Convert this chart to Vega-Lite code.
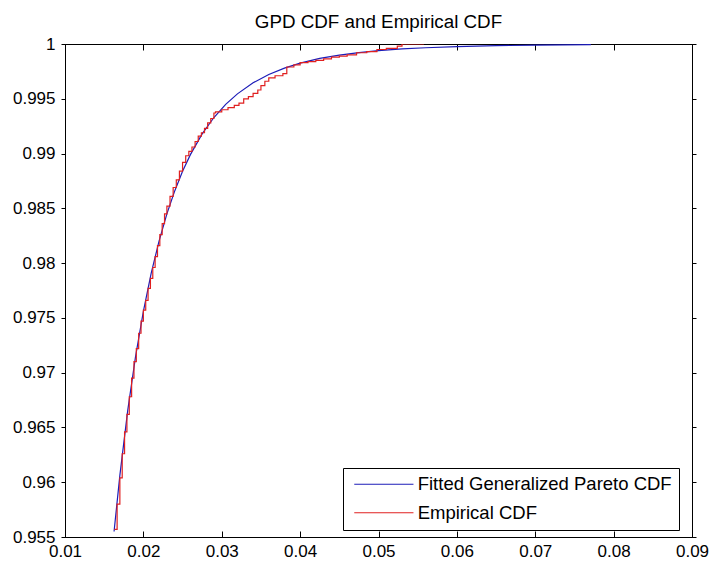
{
  "$schema": "https://vega.github.io/schema/vega-lite/v6.json",
  "width": 627,
  "height": 493,
  "autosize": {"type": "none"},
  "padding": {"left": 65, "top": 44, "right": 19, "bottom": 24},
  "background": "white",
  "title": {"text": "GPD CDF and Empirical CDF", "font": "Liberation Sans", "fontSize": 18.8, "fontWeight": "normal", "color": "black", "anchor": "middle", "offset": 3},
  "config": {
    "view": {"stroke": "black", "strokeWidth": 1},
    "axis": {"grid": false, "domainColor": "black", "tickColor": "black", "labelColor": "black", "labelFont": "Liberation Sans", "labelFontSize": 17, "title": null, "domainWidth": 1, "tickWidth": 1}
  },
  "datasets": {
    "gpd": [
      {"x": 0.01626, "y": 0.9555, "series": "Fitted Generalized Pareto CDF"},
      {"x": 0.0170, "y": 0.96063, "series": "Fitted Generalized Pareto CDF"},
      {"x": 0.0180, "y": 0.96654, "series": "Fitted Generalized Pareto CDF"},
      {"x": 0.0190, "y": 0.97147, "series": "Fitted Generalized Pareto CDF"},
      {"x": 0.0200, "y": 0.97560, "series": "Fitted Generalized Pareto CDF"},
      {"x": 0.0210, "y": 0.97908, "series": "Fitted Generalized Pareto CDF"},
      {"x": 0.0220, "y": 0.98201, "series": "Fitted Generalized Pareto CDF"},
      {"x": 0.0230, "y": 0.98449, "series": "Fitted Generalized Pareto CDF"},
      {"x": 0.0240, "y": 0.98659, "series": "Fitted Generalized Pareto CDF"},
      {"x": 0.0250, "y": 0.98838, "series": "Fitted Generalized Pareto CDF"},
      {"x": 0.0260, "y": 0.98990, "series": "Fitted Generalized Pareto CDF"},
      {"x": 0.0275, "y": 0.99179, "series": "Fitted Generalized Pareto CDF"},
      {"x": 0.0290, "y": 0.99329, "series": "Fitted Generalized Pareto CDF"},
      {"x": 0.0305, "y": 0.99449, "series": "Fitted Generalized Pareto CDF"},
      {"x": 0.0320, "y": 0.99545, "series": "Fitted Generalized Pareto CDF"},
      {"x": 0.0340, "y": 0.99646, "series": "Fitted Generalized Pareto CDF"},
      {"x": 0.0360, "y": 0.99722, "series": "Fitted Generalized Pareto CDF"},
      {"x": 0.0380, "y": 0.99780, "series": "Fitted Generalized Pareto CDF"},
      {"x": 0.0400, "y": 0.99825, "series": "Fitted Generalized Pareto CDF"},
      {"x": 0.0425, "y": 0.99868, "series": "Fitted Generalized Pareto CDF"},
      {"x": 0.0450, "y": 0.99899, "series": "Fitted Generalized Pareto CDF"},
      {"x": 0.0475, "y": 0.99922, "series": "Fitted Generalized Pareto CDF"},
      {"x": 0.0500, "y": 0.99940, "series": "Fitted Generalized Pareto CDF"},
      {"x": 0.0530, "y": 0.99955, "series": "Fitted Generalized Pareto CDF"},
      {"x": 0.0560, "y": 0.99966, "series": "Fitted Generalized Pareto CDF"},
      {"x": 0.0600, "y": 0.99976, "series": "Fitted Generalized Pareto CDF"},
      {"x": 0.0650, "y": 0.99985, "series": "Fitted Generalized Pareto CDF"},
      {"x": 0.0700, "y": 0.99990, "series": "Fitted Generalized Pareto CDF"},
      {"x": 0.0771, "y": 0.99994, "series": "Fitted Generalized Pareto CDF"}
    ],
    "ecdf": [
      {"x": 0.01630, "y": 0.9557, "series": "Empirical CDF"},
      {"x": 0.01665, "y": 0.9580, "series": "Empirical CDF"},
      {"x": 0.01700, "y": 0.9604, "series": "Empirical CDF"},
      {"x": 0.01730, "y": 0.9626, "series": "Empirical CDF"},
      {"x": 0.01760, "y": 0.9646, "series": "Empirical CDF"},
      {"x": 0.01790, "y": 0.9662, "series": "Empirical CDF"},
      {"x": 0.01820, "y": 0.9678, "series": "Empirical CDF"},
      {"x": 0.01850, "y": 0.9695, "series": "Empirical CDF"},
      {"x": 0.01880, "y": 0.9710, "series": "Empirical CDF"},
      {"x": 0.01910, "y": 0.9722, "series": "Empirical CDF"},
      {"x": 0.01940, "y": 0.9736, "series": "Empirical CDF"},
      {"x": 0.01970, "y": 0.9747, "series": "Empirical CDF"},
      {"x": 0.02000, "y": 0.9757, "series": "Empirical CDF"},
      {"x": 0.02030, "y": 0.9766, "series": "Empirical CDF"},
      {"x": 0.02060, "y": 0.9777, "series": "Empirical CDF"},
      {"x": 0.02090, "y": 0.9786, "series": "Empirical CDF"},
      {"x": 0.02120, "y": 0.9796, "series": "Empirical CDF"},
      {"x": 0.02150, "y": 0.9806, "series": "Empirical CDF"},
      {"x": 0.02180, "y": 0.9816, "series": "Empirical CDF"},
      {"x": 0.02210, "y": 0.9826, "series": "Empirical CDF"},
      {"x": 0.02240, "y": 0.9836, "series": "Empirical CDF"},
      {"x": 0.02270, "y": 0.9845, "series": "Empirical CDF"},
      {"x": 0.02300, "y": 0.9852, "series": "Empirical CDF"},
      {"x": 0.02340, "y": 0.9861, "series": "Empirical CDF"},
      {"x": 0.02380, "y": 0.9869, "series": "Empirical CDF"},
      {"x": 0.02420, "y": 0.9876, "series": "Empirical CDF"},
      {"x": 0.02460, "y": 0.9884, "series": "Empirical CDF"},
      {"x": 0.02500, "y": 0.9892, "series": "Empirical CDF"},
      {"x": 0.02540, "y": 0.9898, "series": "Empirical CDF"},
      {"x": 0.02580, "y": 0.9902, "series": "Empirical CDF"},
      {"x": 0.02620, "y": 0.9906, "series": "Empirical CDF"},
      {"x": 0.02660, "y": 0.9911, "series": "Empirical CDF"},
      {"x": 0.02700, "y": 0.9916, "series": "Empirical CDF"},
      {"x": 0.02740, "y": 0.9919, "series": "Empirical CDF"},
      {"x": 0.02780, "y": 0.9923, "series": "Empirical CDF"},
      {"x": 0.02820, "y": 0.9928, "series": "Empirical CDF"},
      {"x": 0.02860, "y": 0.9932, "series": "Empirical CDF"},
      {"x": 0.02900, "y": 0.9937, "series": "Empirical CDF"},
      {"x": 0.02920, "y": 0.9938, "series": "Empirical CDF"},
      {"x": 0.0300, "y": 0.9940, "series": "Empirical CDF"},
      {"x": 0.0308, "y": 0.9942, "series": "Empirical CDF"},
      {"x": 0.0316, "y": 0.9944, "series": "Empirical CDF"},
      {"x": 0.0322, "y": 0.9946, "series": "Empirical CDF"},
      {"x": 0.0328, "y": 0.9950, "series": "Empirical CDF"},
      {"x": 0.0334, "y": 0.9952, "series": "Empirical CDF"},
      {"x": 0.0340, "y": 0.9955, "series": "Empirical CDF"},
      {"x": 0.0346, "y": 0.9958, "series": "Empirical CDF"},
      {"x": 0.0350, "y": 0.9962, "series": "Empirical CDF"},
      {"x": 0.0355, "y": 0.9966, "series": "Empirical CDF"},
      {"x": 0.0360, "y": 0.9969, "series": "Empirical CDF"},
      {"x": 0.0368, "y": 0.9971, "series": "Empirical CDF"},
      {"x": 0.0378, "y": 0.9973, "series": "Empirical CDF"},
      {"x": 0.0383, "y": 0.9979, "series": "Empirical CDF"},
      {"x": 0.0392, "y": 0.9981, "series": "Empirical CDF"},
      {"x": 0.0400, "y": 0.9983, "series": "Empirical CDF"},
      {"x": 0.0410, "y": 0.9984, "series": "Empirical CDF"},
      {"x": 0.0420, "y": 0.9985, "series": "Empirical CDF"},
      {"x": 0.0430, "y": 0.99865, "series": "Empirical CDF"},
      {"x": 0.0440, "y": 0.9988, "series": "Empirical CDF"},
      {"x": 0.0450, "y": 0.9989, "series": "Empirical CDF"},
      {"x": 0.0460, "y": 0.9990, "series": "Empirical CDF"},
      {"x": 0.0472, "y": 0.9992, "series": "Empirical CDF"},
      {"x": 0.0485, "y": 0.9993, "series": "Empirical CDF"},
      {"x": 0.0498, "y": 0.9995, "series": "Empirical CDF"},
      {"x": 0.0510, "y": 0.9996, "series": "Empirical CDF"},
      {"x": 0.0524, "y": 0.9998, "series": "Empirical CDF"},
      {"x": 0.0530, "y": 1.0, "series": "Empirical CDF"},
      {"x": 0.0558, "y": 1.0, "series": "Empirical CDF"}
    ]
  },
  "layer": [
    {
      "data": {"name": "gpd"},
      "mark": {"type": "line", "strokeWidth": 1.2, "clip": true},
      "encoding": {
        "x": {"field": "x", "type": "quantitative", "scale": {"domain": [0.01, 0.09], "nice": false, "zero": false},
              "axis": {"orient": "bottom", "values": [0.01, 0.02, 0.03, 0.04, 0.05, 0.06, 0.07, 0.08, 0.09], "format": ".2f", "tickSize": -6, "labelPadding": 12, "labelFlush": false, "labelOverlap": false}},
        "y": {"field": "y", "type": "quantitative", "scale": {"domain": [0.955, 1], "nice": false, "zero": false},
              "axis": {"orient": "left", "values": [0.955, 0.96, 0.965, 0.97, 0.975, 0.98, 0.985, 0.99, 0.995, 1], "format": "~g", "tickSize": 4, "labelPadding": 6, "labelFlush": false, "labelOverlap": false}},
        "color": {"field": "series", "type": "nominal",
                  "scale": {"domain": ["Fitted Generalized Pareto CDF", "Empirical CDF"], "range": ["#1c1cb8", "#e02020"]},
                  "legend": {"title": null, "orient": "none", "legendX": 278, "legendY": 424, "strokeColor": "black", "fillColor": "white", "padding": 7, "symbolType": "M -3.7 0 L 3.7 0", "symbolSize": 256, "symbolStrokeWidth": 1.2, "symbolOffset": 24.6, "labelOffset": 24.6, "labelFont": "Liberation Sans", "labelFontSize": 18.5, "labelColor": "black", "labelLimit": 0, "rowPadding": 9.5, "cornerRadius": 0}}
      }
    },
    {
      "data": {"name": "ecdf"},
      "mark": {"type": "line", "strokeWidth": 1.2, "interpolate": "step-after", "clip": true},
      "encoding": {
        "x": {"field": "x", "type": "quantitative",
              "axis": {"orient": "top", "values": [0.01, 0.02, 0.03, 0.04, 0.05, 0.06, 0.07, 0.08, 0.09], "labels": false, "tickSize": -6}},
        "y": {"field": "y", "type": "quantitative",
              "axis": {"orient": "right", "values": [0.955, 0.96, 0.965, 0.97, 0.975, 0.98, 0.985, 0.99, 0.995, 1], "labels": false, "tickSize": 4}},
        "color": {"field": "series", "type": "nominal"}
      }
    }
  ],
  "resolve": {"axis": {"x": "independent", "y": "independent"}}
}
